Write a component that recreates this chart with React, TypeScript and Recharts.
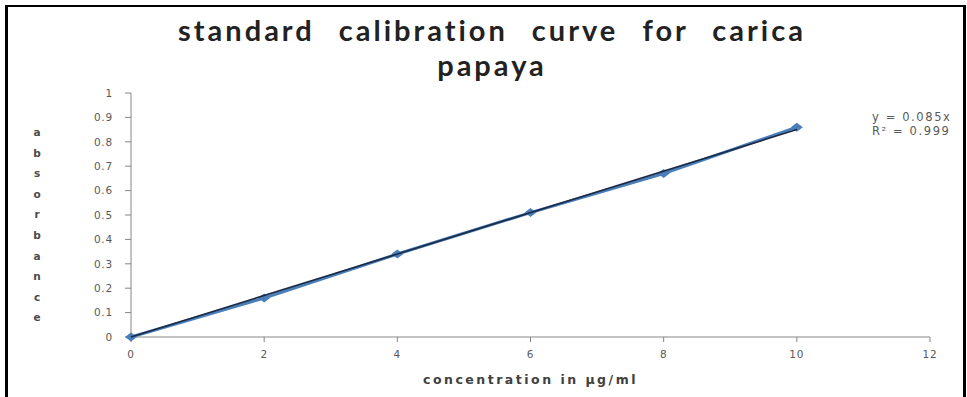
import React from "react";
import { Label, Scatter, ScatterChart, XAxis, YAxis, ZAxis } from "recharts";

const concentrations = [0, 2, 4, 6, 8, 10];
const absorbances = [0, 0.16, 0.34, 0.51, 0.67, 0.86];
const trendX = [0, 10];
const trendY = [0, 0.85];
const xTicks = [0, 2, 4, 6, 8, 10, 12];
const yTicks = [0, 0.1, 0.2, 0.3, 0.4, 0.5, 0.6, 0.7, 0.8, 0.9, 1];
const titleLines = ["standard calibration curve for carica", "papaya"];
const yLabel = "absorbance";
const equation = ["y = 0.085x", "R² = 0.999"];

const points = concentrations.map((x, i) => ({ x, y: absorbances[i] }));
const trend = trendX.map((x, i) => ({ x, y: trendY[i] }));

const tickFont = { fontFamily: "DejaVu Sans", fontSize: 10.5, fill: "#595959", letterSpacing: 0.8 };

const Diamond = (props: any) => {
  const { cx, cy } = props;
  if (cx == null || cy == null) return null;
  return (
    <polygon
      points={`${cx - 6},${cy} ${cx},${cy - 4.5} ${cx + 6},${cy} ${cx},${cy + 4.5}`}
      fill="#4a7ebb"
    />
  );
};

const NoDot = () => null;

export default function App() {
  return (
    <div style={{ position: "absolute", left: 0, top: 0, width: 967, height: 397, background: "#fff", overflow: "hidden" }}>
      <div
        style={{
          position: "absolute",
          left: 5,
          top: 5,
          width: 955,
          height: 400,
          borderLeft: "3px solid #000",
          borderTop: "2px solid #000",
          borderRight: "3px solid #000",
        }}
      />
      <div
        style={{
          position: "absolute",
          left: 0,
          width: 984,
          top: 12,
          textAlign: "center",
          fontFamily: "Lato",
          fontWeight: 700,
          fontSize: 29,
          lineHeight: "35px",
          letterSpacing: 3,
          wordSpacing: 14,
          color: "#222",
        }}
      >
        {titleLines.map((t) => (
          <div key={t}>{t}</div>
        ))}
      </div>
      <div
        style={{
          position: "absolute",
          left: 27,
          top: 122,
          width: 20,
          textAlign: "center",
          fontFamily: "DejaVu Sans",
          fontSize: 10.5,
          fontWeight: 700,
          lineHeight: "20.6px",
          color: "#4a4a4a",
        }}
      >
        {yLabel.split("").map((c, i) => (
          <div key={i}>{c}</div>
        ))}
      </div>
      <div
        style={{
          position: "absolute",
          left: 872,
          top: 110,
          fontFamily: "DejaVu Sans",
          fontSize: 11.5,
          lineHeight: "14px",
          letterSpacing: 1.6,
          color: "#595959",
        }}
      >
        {equation.map((t) => (
          <div key={t}>{t}</div>
        ))}
      </div>
      <ScatterChart width={967} height={397} margin={{ top: 93, right: 37, bottom: 30, left: 0 }}>
        <XAxis
          type="number"
          dataKey="x"
          domain={[0, 12]}
          ticks={xTicks}
          height={30}
          stroke="#868686"
          tickSize={5}
          tickMargin={9}
          tick={tickFont}
        >
          <Label
            value="concentration in µg/ml"
            position="bottom"
            offset={8}
            style={{ fontFamily: "DejaVu Sans", fontSize: 12.5, fontWeight: 700, fill: "#404040", letterSpacing: 2.5 }}
          />
        </XAxis>
        <YAxis
          type="number"
          dataKey="y"
          domain={[0, 1]}
          ticks={yTicks}
          width={131}
          stroke="#868686"
          tickSize={6}
          tickMargin={12}
          tick={tickFont}
          tickFormatter={(v: number) => String(Math.round(v * 10) / 10)}
        />
        <ZAxis range={[60, 60]} />
        <Scatter
          data={points}
          line={{ stroke: "#4a7ebb", strokeWidth: 3 }}
          shape={<Diamond />}
          isAnimationActive={false}
        />
        <Scatter
          data={trend}
          line={{ stroke: "#1b2a44", strokeWidth: 1.6 }}
          shape={<NoDot />}
          isAnimationActive={false}
        />
      </ScatterChart>
    </div>
  );
}
